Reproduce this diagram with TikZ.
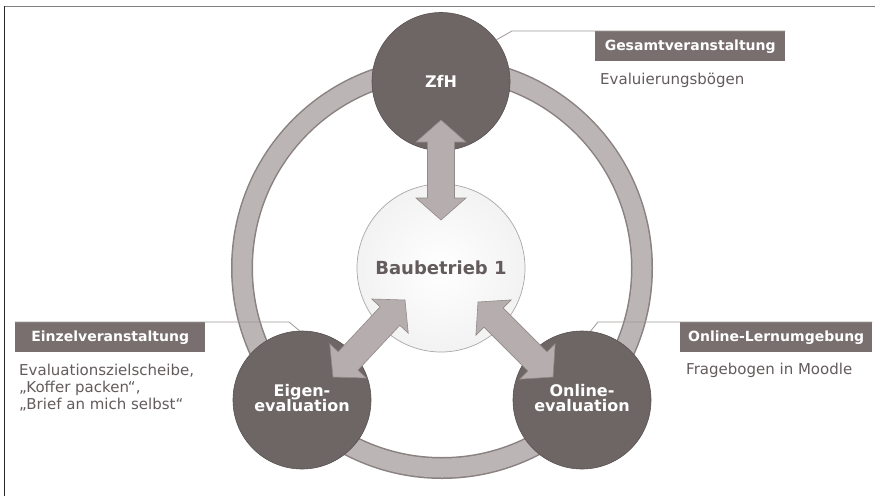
\documentclass[tikz,border=0pt]{standalone}
\usepackage{fontspec}
\setmainfont{DejaVu Sans}
\usetikzlibrary{calc}
\definecolor{darkc}{RGB}{110,101,101}
\definecolor{boxc}{RGB}{121,111,111}
\definecolor{ringf}{RGB}{188,181,181}
\definecolor{ringe}{RGB}{138,129,129}
\definecolor{arrf}{RGB}{182,174,174}
\definecolor{arre}{RGB}{146,137,137}
\definecolor{connc}{RGB}{160,152,152}
\definecolor{txtc}{RGB}{100,92,92}
\newcommand\dblarr[2]{%
  \coordinate (ha) at ($(#1)!22pt!(#2)$);
  \coordinate (hb) at ($(#2)!22pt!(#1)$);
  \draw[arrsty] (#1) -- ($(ha)!25pt!90:(#2)$) -- ($(ha)!13.5pt!90:(#2)$)
    -- ($(hb)!13.5pt!-90:(#1)$) -- ($(hb)!25pt!-90:(#1)$) -- (#2)
    -- ($(hb)!25pt!90:(#1)$) -- ($(hb)!13.5pt!90:(#1)$)
    -- ($(ha)!13.5pt!-90:(#2)$) -- ($(ha)!25pt!-90:(#2)$) -- cycle;}
\begin{document}
\begin{tikzpicture}[x=1pt,y=-1pt,
  darkcirc/.style={circle,fill=darkc,draw=darkc!80!black,line width=0.6pt,minimum size=138pt,inner sep=0pt,
    text=white,font=\fontsize{16}{18}\selectfont\bfseries,align=center},
  labelbox/.style={fill=boxc,minimum width=190pt,minimum height=30pt,inner sep=0pt,
    text=white,font=\fontsize{14}{16}\selectfont\bfseries},
  bodytext/.style={inner sep=0pt,text=txtc,font=\fontsize{15}{17}\selectfont,align=left},
  conn/.style={draw=connc,line width=0.8pt},
  arrsty/.style={fill=arrf,draw=arre,line width=0.6pt,line join=miter}]
\useasboundingbox (0,0) rectangle (875,496);
\fill[white] (0,0) rectangle (875,496);
% frame
\draw[black!50,line width=1.5pt] (4,6.5) -- (875,6.5);
\draw[black!85,line width=1.2pt] (4.3,6) -- (4.3,496);
% ring
\draw[ringe,line width=22pt] (442,268) circle (200pt);
\draw[ringf,line width=19pt] (442,268) circle (200pt);
% centre
\node[circle,minimum size=168pt,inner sep=0pt,draw=ringe!70,line width=0.7pt,
  inner color=white,outer color=black!5,text=txtc,
  font=\fontsize{18}{20}\selectfont\bfseries] (bau) at (441,268) {Baubetrieb 1};
% outer circles
\node[darkcirc] (zfh) at (441,81.5) {\raisebox{-3pt}{ZfH}};
\node[darkcirc] (eigen) at (302,400) {\raisebox{-4pt}{\begin{tabular}{@{}c@{}}Eigen-\\[-3pt]evaluation\end{tabular}}};
\node[darkcirc] (online) at (582,400) {\raisebox{-4pt}{\begin{tabular}{@{}c@{}}Online-\\[-3pt]evaluation\end{tabular}}};
% arrows
\coordinate (za) at (441,120); \coordinate (zb) at (441,220);
\coordinate (ea) at (405,300); \coordinate (eb) at (333,377);
\coordinate (oa) at (478,302); \coordinate (ob) at (553,377);
\dblarr{za}{zb}
\dblarr{ea}{eb}
\dblarr{oa}{ob}
% label boxes
\node[labelbox,anchor=north west] (gesamt) at (595,31) {Gesamtveranstaltung};
\node[labelbox,anchor=north west] (einzel) at (15,322) {Einzelveranstaltung};
\node[labelbox,anchor=north west,minimum width=192pt] (onl) at (680,322) {Online-Lernumgebung};
% connectors
\draw[conn] (zfh.37) -- (512,31) -- (gesamt.north east);
\draw[conn] (eigen.92) -- (289,322) -- (einzel.north west);
\draw[conn] (online.83) -- (598,322) -- (onl.north east);
% texts
\node[bodytext,anchor=west] (evb) at (600,80) {Evaluierungsbögen};
\node[bodytext,anchor=north west] (evz) at (19,364) {Evaluationszielscheibe,\\„Koffer packen“,\\„Brief an mich selbst“};
\node[bodytext,anchor=west] (frb) at (686,370) {Fragebogen in Moodle};
\end{tikzpicture}
\end{document}
